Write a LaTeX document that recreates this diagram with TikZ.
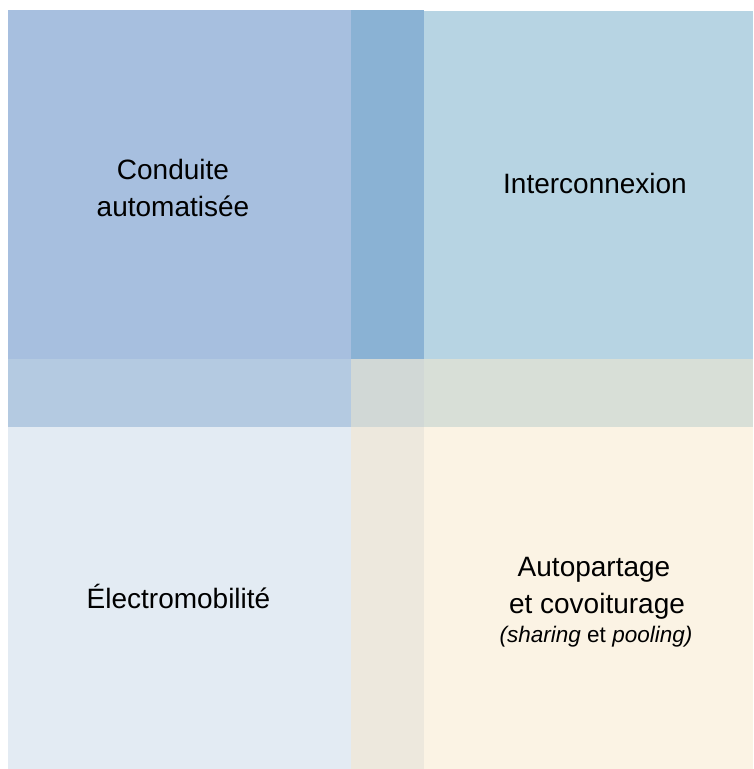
\documentclass[tikz,border=0pt]{standalone}
\usepackage{fontspec}
\setmainfont{Liberation Sans}
\definecolor{cTL}{HTML}{A7BFDF}
\definecolor{cTop}{HTML}{8AB2D4}
\definecolor{cTR}{HTML}{B7D4E3}
\definecolor{cLM}{HTML}{B4CAE1}
\definecolor{cC}{HTML}{D1D8D6}
\definecolor{cRM}{HTML}{D8DFD7}
\definecolor{cBL}{HTML}{E3EBF3}
\definecolor{cBM}{HTML}{EDE8DD}
\definecolor{cBR}{HTML}{FBF3E4}
\tikzset{
  lbl/.style={anchor=base, inner sep=0pt, font=\fontsize{28}{34}\selectfont},
  sublbl/.style={anchor=base, inner sep=0pt, font=\fontsize{22.5}{27}\selectfont},
}
\begin{document}
\begin{tikzpicture}[x=1pt,y=-1pt]
\useasboundingbox (0,0) rectangle (753,769);
% regions
\fill[cTL]  (8,10)   rectangle (351,359);
\fill[cTop] (351,10) rectangle (424,359);
\fill[cTR]  (424,11) rectangle (753,359);
\fill[cLM]  (8,359)  rectangle (351,427);
\fill[cC]   (351,359) rectangle (424,427);
\fill[cRM]  (424,359) rectangle (753,427);
\fill[cBL]  (8,427)  rectangle (351,769);
\fill[cBM]  (351,427) rectangle (424,769);
\fill[cBR]  (424,427) rectangle (753,769);
% labels
\node[lbl] (cond1) at (173,179) {Conduite};
\node[lbl] (cond2) at (173,216) {automatisée};
\node[lbl] (inter) at (595,193) {Interconnexion};
\node[lbl] (elec)  at (178.5,608) {Électromobilité};
\node[lbl] (auto1) at (594,576) {Autopartage};
\node[lbl] (auto2) at (597,613) {et covoiturage};
\node[sublbl] (auto3) at (596,642) {\textit{(sharing} et \textit{pooling)}};
\end{tikzpicture}
\end{document}
